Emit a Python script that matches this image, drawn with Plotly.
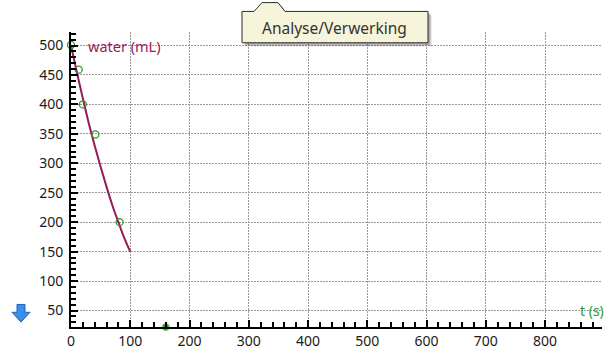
import plotly.graph_objects as go

# Measured volume of water over time
t_meas = [0, 13, 20, 41, 82]
water_meas = [501, 459, 400, 349, 200]

# Single reading that lies on the time axis
t_extra = [160]
water_extra = [22]

# Fitted curve, read at 10 s steps
t_fit = [0, 10, 20, 30, 40, 50, 60, 70, 80, 90, 100]
water_fit = [500, 454, 410, 368, 330, 294, 260, 228, 200, 173, 150]

x_ticks = [0, 100, 200, 300, 400, 500, 600, 700, 800]
y_ticks = [50, 100, 150, 200, 250, 300, 350, 400, 450, 500]

W, H = 606, 354
L, R, T, B = 71, 4, 32, 21
PW, PH = W - L - R, H - T - B

MAROON = "#951a5c"
GREEN = "#2e9a2e"
FONT = "Noto Sans"


def px(x):
    return (x - L) / PW


def py(y):
    return (H - B - y) / PH


fig = go.Figure()

fig.add_trace(go.Scatter(
    x=t_fit, y=water_fit, mode="lines", line=dict(color=MAROON, width=2, shape="spline"),
    hoverinfo="skip", showlegend=False,
))
fig.add_trace(go.Scatter(
    x=t_meas, y=water_meas, mode="markers",
    marker=dict(symbol="circle-open", size=7, color=GREEN, line=dict(width=1.3, color=GREEN)),
    showlegend=False, cliponaxis=False,
))
fig.add_trace(go.Scatter(
    x=t_extra, y=water_extra, mode="markers",
    marker=dict(symbol="circle", size=7, color="#2a9a34", line=dict(width=1, color="#6fce6f")),
    showlegend=False, cliponaxis=False,
))

axis_common = dict(
    showline=True, linecolor="black", linewidth=2,
    ticks="inside", ticklen=7, tickwidth=2, tickcolor="black",
    showgrid=True, gridcolor="#9a9a9a", gridwidth=1, griddash="2px,1px",
    zeroline=False, tickfont=dict(family=FONT, size=14, color="#1a1a1a"),
    fixedrange=True,
)

fig.update_xaxes(
    range=[0, 896], tickvals=x_ticks, ticktext=[str(v) for v in x_ticks],
    minor=dict(dtick=20, tick0=0, ticks="inside", ticklen=5, tickwidth=2, tickcolor="black", showgrid=False),
    ticklabelstandoff=0,
    **axis_common,
)
fig.update_yaxes(
    range=[22, 523], tickvals=y_ticks, ticktext=[str(v) for v in y_ticks],
    minor=dict(dtick=10, tick0=0, ticks="inside", ticklen=5, tickwidth=2, tickcolor="black", showgrid=False),
    ticklabelstandoff=3,
    **axis_common,
)

# Axis captions
fig.add_annotation(x=25, y=500, text="water (mL)", showarrow=False, xanchor="left", yanchor="middle",
                   font=dict(family=FONT, size=14.5, color=MAROON))
fig.add_annotation(x=855, y=50, text="t (s)", showarrow=False, xanchor="left", yanchor="middle",
                   font=dict(family=FONT, size=14, color=GREEN))

# Tooltip balloon with a notch on top
def balloon(dx=0, dy=0):
    pts = [(242, 43), (242, 11), (254, 11), (262, 2), (278, 2), (285, 11), (428, 11), (428, 43)]
    return "M " + " L ".join(f"{px(x + dx):.5f},{py(y + dy):.5f}" for x, y in pts) + " Z"


for off, op in [(4, 0.08), (3, 0.12), (2, 0.16)]:
    fig.add_shape(type="path", xref="paper", yref="paper", path=balloon(off, off),
                  fillcolor=f"rgba(0,0,0,{op})", line=dict(width=0), layer="above")
fig.add_shape(type="path", xref="paper", yref="paper", path=balloon(),
              fillcolor="#f6f5dc", line=dict(color="#2b2b2b", width=1), layer="above")
fig.add_annotation(xref="paper", yref="paper", x=px(334), y=py(28), text="Analyse/Verwerking",
                   showarrow=False, xanchor="center", yanchor="middle",
                   font=dict(family=FONT, size=15.5, color="#333"))

# Blue down arrow icon
arrow_pts = [(17, 310), (25, 310), (25, 318), (30, 318), (21, 328), (12, 318), (17, 318)]
arrow = "M " + " L ".join(f"{px(x):.5f},{py(y):.5f}" for x, y in arrow_pts) + " Z"
fig.add_shape(type="path", xref="paper", yref="paper", path=arrow,
              fillcolor="#3d8fe6", line=dict(color="#1f63c4", width=1), layer="above")

fig.update_layout(
    width=W, height=H, margin=dict(l=L, r=R, t=T, b=B),
    paper_bgcolor="white", plot_bgcolor="white", showlegend=False,
)

fig.write_html("out.html", config={"displayModeBar": False})
